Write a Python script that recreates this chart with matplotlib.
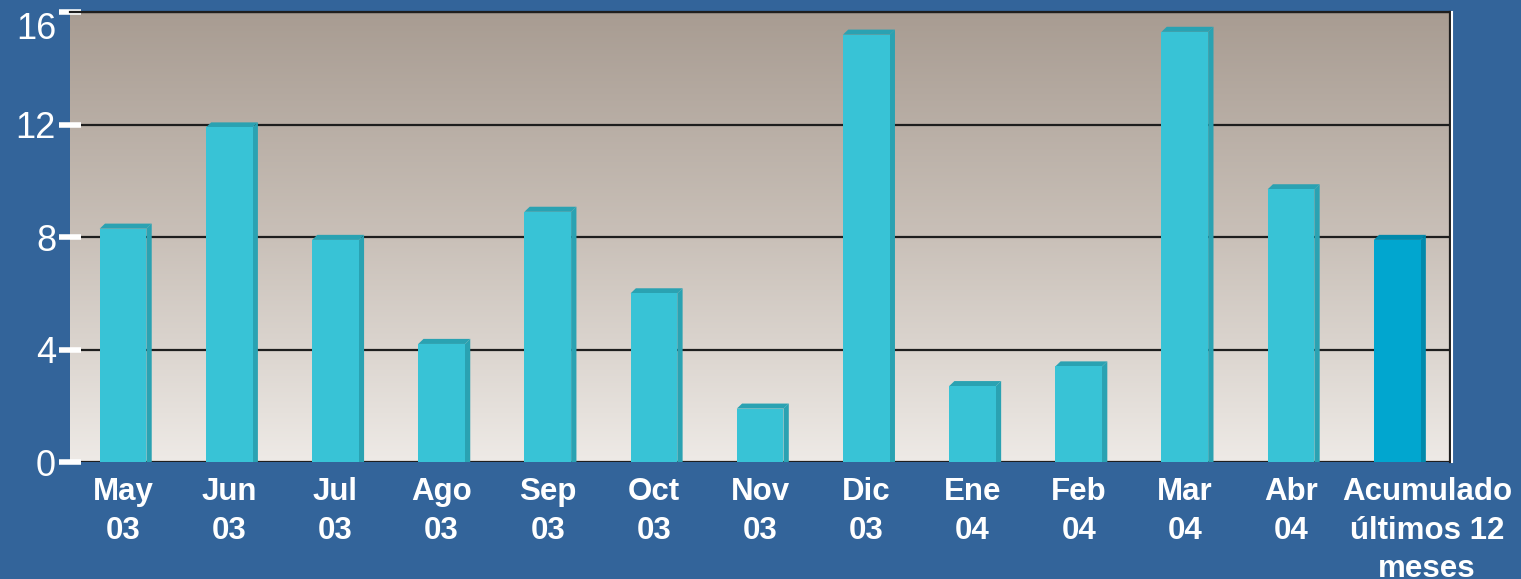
import matplotlib
matplotlib.use("Agg")
import matplotlib.pyplot as plt
import matplotlib.transforms as mtransforms
from matplotlib.patches import Polygon
from matplotlib.colors import LinearSegmentedColormap
import numpy as np

labels = ["May\n03", "Jun\n03", "Jul\n03", "Ago\n03", "Sep\n03", "Oct\n03", "Nov\n03",
          "Dic\n03", "Ene\n04", "Feb\n04", "Mar\n04", "Abr\n04",
          "Acumulado\núltimos 12\nmeses"]
values = [8.3, 11.9, 7.9, 4.2, 8.9, 6.0, 1.9, 15.2, 2.7, 3.4, 15.3, 9.7, 7.9]
yticks = [0, 4, 8, 12, 16]

bg = "#33649A"
front = ["#38C3D6"] * 12 + ["#01A6CF"]
side = ["#2AA2B2"] * 12 + ["#0189AB"]

plt.rcParams["font.family"] = ["Liberation Sans", "DejaVu Sans"]

fig = plt.figure(figsize=(15.21, 5.79), dpi=100, facecolor=bg)
ax = fig.add_axes([0.046, 0.202, 0.9075, 0.777])
ax.set_facecolor(bg)

x = np.arange(len(values))
w = 0.44
dx, dy = 0.05, 0.18

ax.set_xlim(-0.5, len(values) - 0.5)
ax.set_ylim(0, 16)

# gradient backdrop
grad = LinearSegmentedColormap.from_list("g", ["#EEEAE6", "#C9C0B8", "#A89C92"])
ax.imshow(np.linspace(0, 1, 256).reshape(-1, 1), cmap=grad, aspect="auto",
          extent=(-0.5, len(values) - 0.5, 0, 16), origin="lower", zorder=0)

for yv in yticks:
    ax.axhline(yv, color="#1E1E1E", lw=1.6, zorder=1)

ax.bar(x, values, width=w, color=front, zorder=3)
for xi, v, sc in zip(x, values, side):
    r = xi + w / 2
    l = xi - w / 2
    ax.add_patch(Polygon([(r, 0), (r + dx, 0), (r + dx, v + dy), (r, v)],
                         closed=True, color=sc, zorder=2.9, lw=0))
    ax.add_patch(Polygon([(l, v), (l + dx, v + dy), (r + dx, v + dy), (r, v)],
                         closed=True, color=sc, zorder=2.9, lw=0))

ax.set_yticks(yticks)
ax.set_yticklabels([str(t) for t in yticks], color="white", fontsize=26)
ax.tick_params(axis="y", direction="inout", length=16, width=4, color="white", pad=2)
ax.get_yticklabels()[-1].set_va("top")
ax.set_xticks(x)
ax.set_xticklabels(labels, color="white", fontsize=22.5, fontweight="bold",
                   linespacing=1.36, ha="center", va="top")
ax.tick_params(axis="x", length=0, pad=11)

last = ax.get_xticklabels()[-1]
last.set_transform(last.get_transform() +
                   mtransforms.ScaledTranslation(0.3, 0, fig.dpi_scale_trans))

for s in ["left", "bottom"]:
    ax.spines[s].set_visible(False)
ax.spines["top"].set_color("#1E1E1E")
ax.spines["top"].set_linewidth(1.6)
ax.spines["right"].set_color("#1E1E1E")
ax.spines["right"].set_linewidth(1.6)
edge = ax.transAxes + mtransforms.ScaledTranslation(0.02, 0, fig.dpi_scale_trans)
ax.plot([1, 1], [0, 1], color="white", lw=1.5, transform=edge, clip_on=False, zorder=5)

fig.savefig("out.png", dpi=100, facecolor=bg)
